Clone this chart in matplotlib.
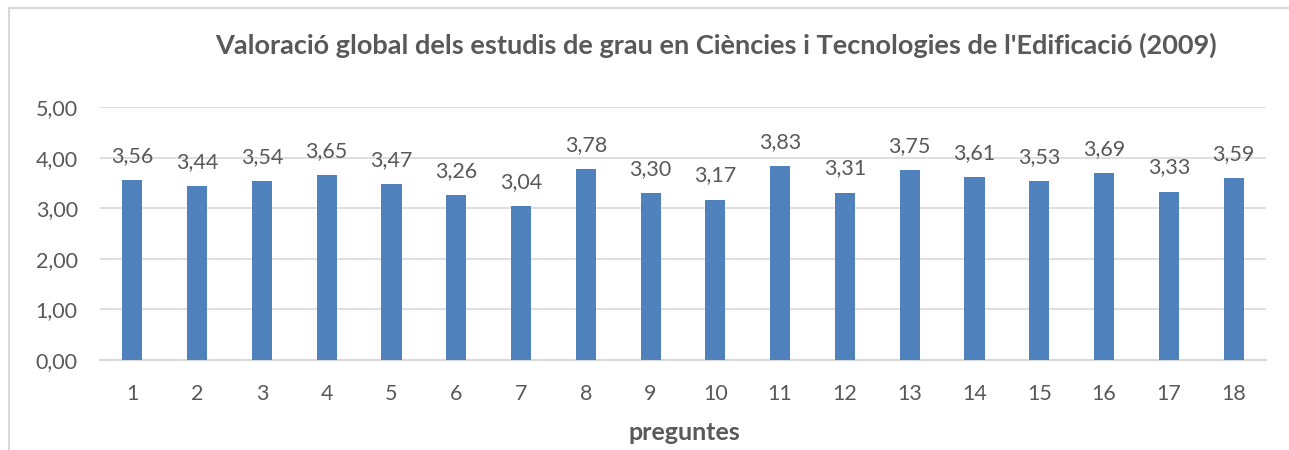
import matplotlib
matplotlib.use("Agg")
import matplotlib.pyplot as plt
from matplotlib.patches import Rectangle

preguntes = list(range(1, 19))
valors = [3.56, 3.44, 3.54, 3.65, 3.47, 3.26, 3.04, 3.78, 3.30,
          3.17, 3.83, 3.31, 3.75, 3.61, 3.53, 3.69, 3.33, 3.59]
yticks = [0, 1, 2, 3, 4, 5]

plt.rcParams['font.family'] = ['Lato', 'DejaVu Sans']
text_col = '#595959'
grid_col = '#D9D9D9'

fig = plt.figure(figsize=(12.89, 4.5), dpi=100)
ax = fig.add_axes([100 / 1289, 90 / 450, 1166 / 1289, 253 / 450])

# chart border (cut off on the right and bottom in the original)
fig.patches.append(Rectangle((9 / 1289, -0.1), 1.2, 442 / 450 + 0.1,
                             transform=fig.transFigure, fill=False,
                             edgecolor=grid_col, linewidth=1.5))

ax.bar(preguntes, valors, width=0.31, color='#4F81BD', zorder=3)
for x, v in zip(preguntes, valors):
    ax.annotate(f"{v:.2f}".replace('.', ','), (x, v), xytext=(0, 13),
                textcoords='offset points', ha='center', va='baseline',
                fontsize=15.5, color=text_col)

ax.set_xlim(0.5, 18.5)
ax.set_ylim(0, 5)
ax.set_yticks(yticks)
ax.set_yticklabels([f"{t:.2f}".replace('.', ',') for t in yticks])
ax.set_xticks(preguntes)
ax.tick_params(axis='both', length=0, labelsize=15.5, labelcolor=text_col)
ax.tick_params(axis='y', pad=16)
ax.tick_params(axis='x', pad=17)
ax.grid(axis='y', color=grid_col, linewidth=1.2, zorder=0)
for s in ['top', 'right', 'left']:
    ax.spines[s].set_visible(False)
ax.spines['bottom'].set_color(grid_col)
ax.spines['bottom'].set_linewidth(1.5)

fig.text(684 / 1289, 1 - 432 / 450, 'preguntes', ha='center', va='center',
         fontsize=18, fontweight='bold', color=text_col)
fig.text(716 / 1289, 1 - 45 / 450,
         "Valoració global dels estudis de grau en Ciències i Tecnologies de l'Edificació (2009)",
         ha='center', va='center', fontsize=19.5, fontweight='bold', color=text_col)

fig.savefig('out.png', dpi=100)
